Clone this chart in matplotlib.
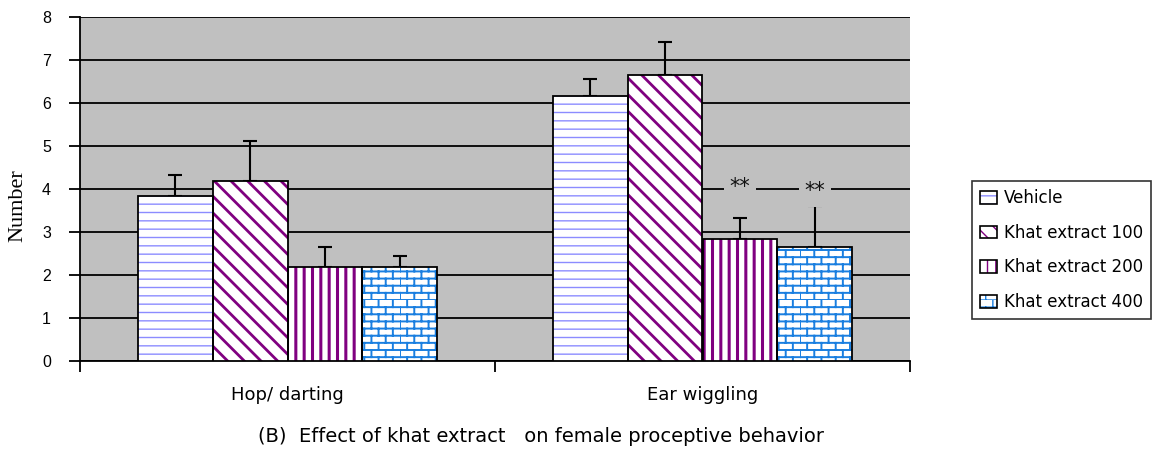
import numpy as np
import matplotlib
matplotlib.use('Agg')
import matplotlib.pyplot as plt
from matplotlib import hatch as mhatch
from matplotlib.path import Path
from matplotlib.patches import Patch
from matplotlib.legend_handler import HandlerTuple

# data
categories = ['Hop/ darting', 'Ear wiggling']
groups = ['Vehicle', 'Khat extract 100', 'Khat extract 200', 'Khat extract 400']
means = [[3.84, 6.16],
         [4.19, 6.65],
         [2.19, 2.84],
         [2.19, 2.65]]
errs = [[0.49, 0.40],
        [0.93, 0.77],
        [0.46, 0.49],
        [0.25, 0.95]]
stars = ['', '', '**', '**']
star_y = [4.05, 3.95]
caption = '(B)  Effect of khat extract   on female proceptive behavior'

hatch_colors = ['#8c8cff', '#800080', '#800080', '#1a7fe0']
hatches = ['--', '\\\\', '||', '*']
hatch_lw = [1.0, 2.0, 2.2, 1.4]


class BrickHatch(mhatch.HatchPatternBase):
    # brick pattern, triggered by '*' (replaces the stars hatch)
    def __init__(self, hatch, density):
        self.k = hatch.count('*') * 7
        self.rows = self.k * 2
        self.cols = self.k
        self.num_vertices = 2 * self.rows + 2 * self.rows * self.cols if self.k else 0

    def set_vertices_and_codes(self, vertices, codes):
        rows, cols = self.rows, self.cols
        i = 0
        for r in range(rows):
            y = r / rows
            vertices[i] = (0.0, y); codes[i] = Path.MOVETO
            vertices[i + 1] = (1.0, y); codes[i + 1] = Path.LINETO
            i += 2
        for r in range(rows):
            off = 0.5 * (r % 2)
            for c in range(cols):
                x = (c + off) / cols
                vertices[i] = (x, r / rows); codes[i] = Path.MOVETO
                vertices[i + 1] = (x, (r + 1) / rows); codes[i + 1] = Path.LINETO
                i += 2


mhatch._hatch_types[:] = [t for t in mhatch._hatch_types if t is not mhatch.Stars] + [BrickHatch]

plt.rcParams['font.family'] = ['Liberation Sans', 'DejaVu Sans']

fig = plt.figure(figsize=(11.7, 4.5), dpi=100)
ax = fig.add_axes([80 / 1170, 89 / 450, 830 / 1170, 344 / 450])
ax.set_facecolor('#c0c0c0')

x = np.arange(len(categories))
w = 0.18
handles = []
for i, g in enumerate(groups):
    pos = x + (i - 1.5) * w
    with plt.rc_context({'hatch.linewidth': hatch_lw[i]}):
        hb = ax.bar(pos, means[i], w, color='white', edgecolor=hatch_colors[i],
                    hatch=hatches[i], linewidth=0, zorder=3)
        hp = Patch(facecolor='white', edgecolor=hatch_colors[i], hatch=hatches[i], linewidth=0)
    for p in list(hb) + [hp]:
        if hasattr(p, 'set_hatch_linewidth'):
            p.set_hatch_linewidth(hatch_lw[i])
    ax.bar(pos, means[i], w, fill=False, edgecolor='black', linewidth=1.3, zorder=4)
    ax.errorbar(pos, means[i], yerr=[np.zeros(len(categories)), errs[i]], fmt='none',
                ecolor='black', elinewidth=1.5, capsize=5, capthick=1.5, zorder=2)
    ep = Patch(fill=False, edgecolor='black', linewidth=1.2)
    handles.append((hp, ep))
    if stars[i]:
        ax.text(pos[1], star_y[i - 2], stars[i], ha='center', va='center', fontsize=15,
                fontfamily='DejaVu Sans', color='#111111', zorder=2.5,
                bbox=dict(facecolor='#c0c0c0', edgecolor='none', pad=4))

ax.set_ylim(0, 8)
ax.set_yticks(range(0, 9))
ax.set_xlim(-0.5, 1.5)
ax.yaxis.grid(True, color='black', linewidth=1.3, zorder=1)
ax.set_axisbelow(True)
for s in ['top', 'right']:
    ax.spines[s].set_visible(False)
ax.spines['left'].set_linewidth(1.3)
ax.spines['bottom'].set_linewidth(1.3)
ax.tick_params(axis='y', length=8, width=1.3, labelsize=11.5, pad=13, color='black')
ax.set_xticks(x)
ax.set_xticklabels(categories, fontsize=13, fontfamily='DejaVu Sans')
ax.tick_params(axis='x', which='major', length=0, pad=18)
ax.set_xticks([-0.5, 0.5, 1.5], minor=True)
ax.tick_params(axis='x', which='minor', length=8, width=1.3)
ax.set_ylabel('Number', fontsize=16, fontfamily='Liberation Serif')
ax.yaxis.set_label_coords(-0.064, 0.453)

fig.text(541 / 1170, 13 / 450, caption, ha='center', va='center', fontsize=14,
         fontfamily='DejaVu Sans')

leg = fig.legend(handles, groups, handler_map={tuple: HandlerTuple(ndivide=1)},
                 loc='center left', bbox_to_anchor=(972 / 1170, 200 / 450),
                 frameon=True, fancybox=False, edgecolor='black',
                 prop={'family': 'DejaVu Sans', 'size': 12},
                 handlelength=1.0, handleheight=0.8, handletextpad=0.4,
                 labelspacing=1.0, borderpad=0.5, borderaxespad=0)
leg.get_frame().set_linewidth(1.2)

fig.savefig('out.png', dpi=100, facecolor='white')
